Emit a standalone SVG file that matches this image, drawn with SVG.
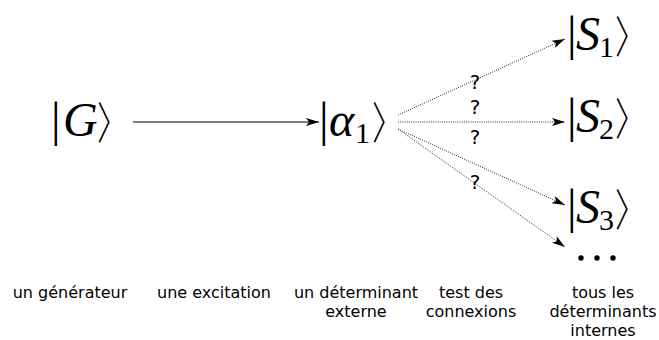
<svg xmlns="http://www.w3.org/2000/svg" width="659" height="340" viewBox="0 0 659 340">
<style>
.m{font-family:"Liberation Serif","DejaVu Serif",serif;font-size:48px;fill:#000}
.mi{font-style:italic}
.sub{font-family:"Liberation Serif","DejaVu Serif",serif;font-size:30px;fill:#000}
.br{font-family:"Noto Sans CJK JP","Noto Sans CJK SC","DejaVu Serif",serif;font-size:40px;font-weight:300;fill:#000}
.lbl{font-family:"DejaVu Sans",sans-serif;font-size:16px;fill:#000;text-anchor:middle}
.q{font-family:"DejaVu Sans",sans-serif;font-size:20px;fill:#000;text-anchor:middle}
.dot{fill:none;stroke:#333;stroke-width:1;stroke-dasharray:1 1.2}
.solid{fill:none;stroke:#000;stroke-width:1.2}
</style>
<defs>
<marker id="ah" markerWidth="14" markerHeight="10" refX="13" refY="5" orient="auto" markerUnits="userSpaceOnUse">
<path d="M0,1 L13,5 L0,9 L3,5 Z" fill="#000"/>
</marker>
</defs>
<g id="connectors">
<line class="solid" x1="133" y1="122" x2="319" y2="122" marker-end="url(#ah)"/>
<line class="dot" x1="398" y1="115" x2="565" y2="39" marker-end="url(#ah)"/>
<line class="dot" x1="398" y1="122" x2="565" y2="122" marker-end="url(#ah)"/>
<line class="dot" x1="398" y1="129" x2="565" y2="205" marker-end="url(#ah)"/>
<line class="dot" x1="398" y1="129" x2="565" y2="247" marker-end="url(#ah)"/>
<text class="q" x="475" y="89">?</text>
<text class="q" x="475" y="114">?</text>
<text class="q" x="475" y="144">?</text>
<text class="q" x="475" y="189">?</text>
</g>
<g id="G">
<text class="m" x="51" y="136">|</text>
<text class="m mi" x="63" y="136">G</text>
<text class="br" transform="translate(97,139) scale(0.8,1.1)">〉</text>
</g>
<g id="alpha1">
<text class="m" x="319" y="136">|</text>
<text class="m mi" x="329" y="136">α</text>
<text class="sub" x="355" y="143">1</text>
<text class="br" transform="translate(372,139) scale(0.8,1.1)">〉</text>
</g>
<g id="S1">
<text class="m" x="567" y="50">|</text>
<text class="m mi" x="576" y="50">S</text>
<text class="sub" x="599" y="57">1</text>
<text class="br" transform="translate(615,53) scale(0.8,1.1)">〉</text>
</g>
<g id="S2">
<text class="m" x="567" y="132">|</text>
<text class="m mi" x="576" y="132">S</text>
<text class="sub" x="599" y="139">2</text>
<text class="br" transform="translate(615,135) scale(0.8,1.1)">〉</text>
</g>
<g id="S3">
<text class="m" x="567" y="223">|</text>
<text class="m mi" x="576" y="223">S</text>
<text class="sub" x="599" y="230">3</text>
<text class="br" transform="translate(615,226) scale(0.8,1.1)">〉</text>
</g>
<g id="dots">
<circle cx="581" cy="258" r="2.7"/>
<circle cx="597" cy="258" r="2.7"/>
<circle cx="613" cy="258" r="2.7"/>
</g>
<g id="labels">
<text class="lbl" x="70" y="298">un générateur</text>
<text class="lbl" x="214" y="298">une excitation</text>
<text class="lbl" x="356" y="298">un déterminant</text>
<text class="lbl" x="356" y="317">externe</text>
<text class="lbl" x="471" y="298">test des</text>
<text class="lbl" x="471" y="317">connexions</text>
<text class="lbl" x="603" y="298">tous les</text>
<text class="lbl" x="603" y="317">déterminants</text>
<text class="lbl" x="603" y="336">internes</text>
</g>
</svg>
